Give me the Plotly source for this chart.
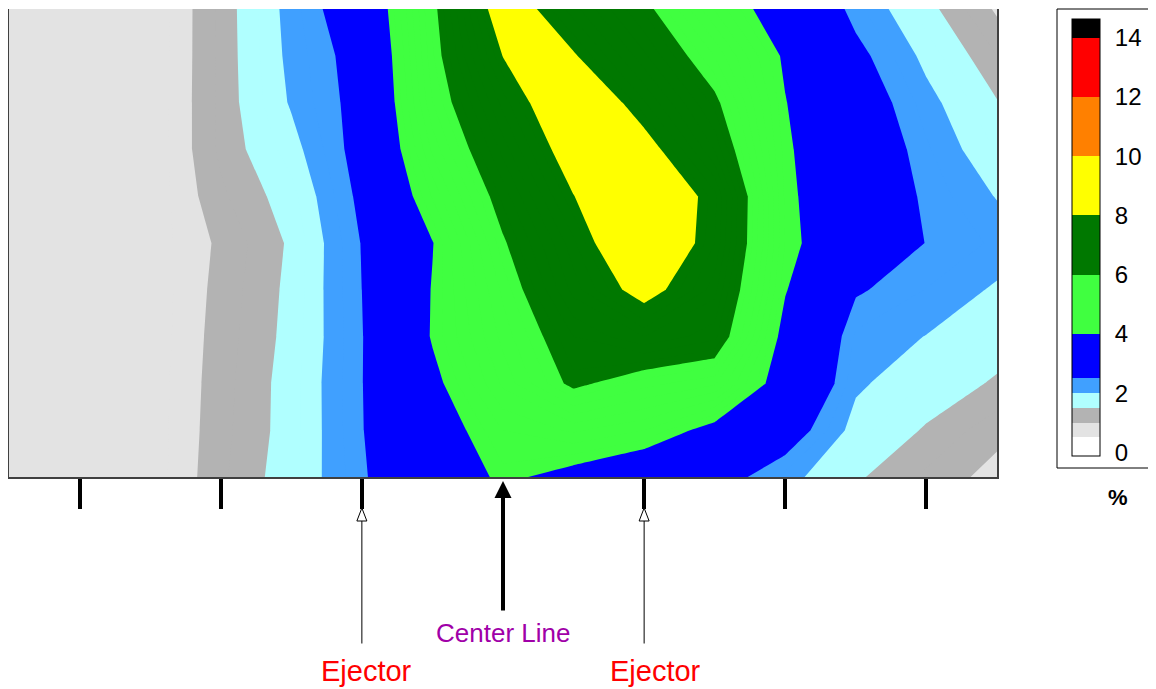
import plotly.graph_objects as go

# grid of measurement positions (x relative to centre line, y up the wall)
x_pos = [-3.5, -3.0, -2.5, -2.0, -1.5, -1.0, -0.5, 0.0, 0.5, 1.0, 1.5, 2.0, 2.5, 3.0, 3.5]
y_pos = [0, 1, 2, 3, 4, 5, 6, 7, 8, 9, 10]

# values in %, one row per y position (bottom row first)
pct = [
    [0.66, 0.64, 0.60, 1.20, 1.68, 2.42, 3.35, 4.15, 3.73, 3.26, 2.79, 2.17, 1.55, 1.20, 0.88],
    [0.66, 0.64, 0.60, 1.17, 1.64, 2.47, 3.54, 4.50, 4.80, 4.50, 3.73, 2.87, 1.84, 1.46, 1.10],
    [0.66, 0.64, 0.60, 1.15, 1.64, 2.48, 3.80, 5.06, 6.15, 5.60, 5.30, 3.50, 2.07, 1.73, 1.45],
    [0.66, 0.64, 0.58, 1.13, 1.60, 2.47, 4.06, 5.34, 6.50, 7.00, 6.60, 3.70, 2.20, 1.99, 1.69],
    [0.66, 0.64, 0.58, 1.10, 1.58, 2.50, 4.04, 5.57, 7.10, 8.40, 7.10, 4.05, 2.56, 2.24, 1.95],
    [0.66, 0.64, 0.60, 1.06, 1.55, 2.52, 3.97, 5.92, 7.43, 9.30, 7.50, 4.23, 3.25, 2.48, 2.20],
    [0.65, 0.63, 0.57, 1.20, 1.66, 2.62, 4.53, 6.34, 7.98, 9.30, 7.60, 4.19, 3.16, 2.40, 1.98],
    [0.64, 0.62, 0.56, 1.30, 1.86, 2.71, 5.06, 6.85, 8.52, 8.40, 6.73, 4.13, 3.05, 2.29, 1.72],
    [0.63, 0.60, 0.55, 1.31, 2.04, 2.70, 5.49, 7.35, 9.06, 7.53, 6.16, 4.03, 2.89, 2.13, 1.52],
    [0.62, 0.60, 0.54, 1.31, 2.10, 2.74, 5.70, 8.02, 8.07, 6.81, 5.49, 3.88, 2.66, 1.89, 1.25],
    [0.60, 0.58, 0.535, 1.31, 2.14, 2.95, 5.81, 8.60, 7.35, 6.20, 4.73, 3.39, 2.33, 1.62, 0.95],
]

# contour bands (edges in %) and their fill colours
band_edges = [0, 0.5, 1, 1.5, 2, 2.5, 4, 6, 8, 10, 12, 14, 14.5]
band_colors = ["#FFFFFF", "#E3E3E3", "#B3B3B3", "#B0FFFF", "#40A0FF", "#0000FF",
               "#40FF40", "#007800", "#FFFF00", "#FF8000", "#FF0000", "#000000"]
cbar_ticks = [0, 2, 4, 6, 8, 10, 12, 14]

axis_ticks = [-3, -2, -1, 1, 2, 3]
ejector_x = [-1, 1]
ejector_label_shift = [5, 11]
center_x = 0

STEP = 0.25
START, END = 0.0, 14.5
FONT = "Liberation Sans, Arial, sans-serif"


def band_color(v):
    if v < band_edges[0]:
        return band_colors[0]
    for i in range(len(band_colors)):
        if band_edges[i] <= v < band_edges[i + 1]:
            return band_colors[i]
    return band_colors[-1]


# stepped colorscale: plotly maps band mid-points evenly onto [0, 1]
n_lev = int(round((END - START) / STEP)) + 1
colorscale = []
for k in range(n_lev + 1):
    mid = START - STEP / 2 + k * STEP
    c = band_color(mid)
    lo = max(0.0, (k - 0.5) / n_lev)
    hi = min(1.0, (k + 0.5) / n_lev)
    colorscale.append([lo, c])
    colorscale.append([hi, c])


# page pixel -> paper coords (plot area covers page x 9..997, y 9..477)
def px_x(px):
    return (px - 9) / 988


def py(px):
    return (477 - px) / 468


fig = go.Figure()

fig.add_trace(go.Contour(
    x=x_pos, y=y_pos, z=pct,
    colorscale=colorscale,
    contours=dict(start=START, end=END, size=STEP, coloring="fill", showlines=False),
    line=dict(width=0, smoothing=0),
    hoverinfo="skip",
    colorbar=dict(
        x=px_x(1072), xanchor="left", xpad=0,
        y=py(19.3), yanchor="top", ypad=0,
        len=436.6, lenmode="pixels",
        thickness=28, thicknessmode="pixels",
        outlinecolor="black", outlinewidth=1,
        tickvals=cbar_ticks,
        ticks="outside", ticklen=10, tickcolor="rgba(0,0,0,0)",
        tickfont=dict(family=FONT, size=24, color="black"),
    ),
))

annotations = []
shapes = []
# centre line arrow
annotations.append(dict(
    x=center_x, y=py(481), ax=0, ay=612 - 481,
    xref="x", yref="paper", axref="pixel", ayref="pixel",
    text="", showarrow=True, arrowhead=2, arrowsize=0.85, arrowwidth=4, arrowcolor="black",
))
annotations.append(dict(
    x=center_x, y=py(633), xref="x", yref="paper", showarrow=False,
    xanchor="center", yanchor="middle",
    text="Center Line", font=dict(family=FONT, size=26, color="#A000A8"),
))
half_w = 5 * 7.0 / 988  # 5 px in data units
for ex, shift in zip(ejector_x, ejector_label_shift):
    annotations.append(dict(
        x=ex, y=py(521), ax=0, ay=645 - 521,
        xref="x", yref="paper", axref="pixel", ayref="pixel",
        text="", showarrow=True, arrowhead=0, arrowwidth=1, arrowcolor="black",
    ))
    annotations.append(dict(
        x=ex, y=py(671), xref="x", yref="paper", showarrow=False, xshift=shift,
        xanchor="center", yanchor="middle",
        text="Ejector", font=dict(family=FONT, size=29, color="#FF0000"),
    ))
    # open arrow head
    shapes.append(dict(
        type="path", xref="x", yref="paper",
        path=f"M {ex - half_w},{py(521)} L {ex + half_w},{py(521)} L {ex},{py(508)} Z",
        fillcolor="white", line=dict(color="black", width=1),
    ))
annotations.append(dict(
    x=px_x(1118), y=py(497), xref="paper", yref="paper", showarrow=False,
    xanchor="center", yanchor="middle",
    text="<b>%</b>", font=dict(family=FONT, size=22, color="black"),
))
# legend frame
shapes.append(dict(type="rect", xref="paper", yref="paper",
                   x0=px_x(1057), x1=1.25, y0=py(468), y1=py(9),
                   line=dict(color="black", width=1)))

fig.update_layout(
    width=1148, height=681,
    margin=dict(l=1, r=159, t=1, b=212),
    paper_bgcolor="white", plot_bgcolor="white",
    showlegend=False,
    annotations=annotations,
    shapes=shapes,
)
fig.update_xaxes(
    range=[-3.5, 3.5], showgrid=False, zeroline=False,
    showline=True, linecolor="#404040", linewidth=2,
    tickvals=axis_ticks, ticks="outside", ticklen=30, tickwidth=4, tickcolor="black",
    showticklabels=False,
)
fig.update_yaxes(
    range=[0, 10], showgrid=False, zeroline=False,
    showline=True, mirror=True, linecolor="#404040", linewidth=2,
    showticklabels=False, ticks="",
)

fig.write_html("out.html")
